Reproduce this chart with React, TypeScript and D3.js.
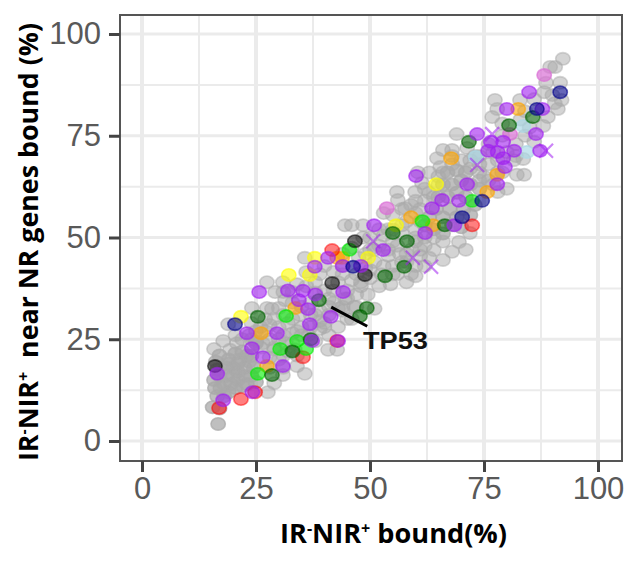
import React from 'react';
import * as d3 from 'd3';

type Pt = [number, number];

const xTicks = [0, 25, 50, 75, 100];
const yTicks = [0, 25, 50, 75, 100];
const minorTicks = [12.5, 37.5, 62.5, 87.5];

// grey genes, drawn under the coloured ones
const greyBack: Pt[] = [
  [15.8,22.6],[17.8,24.6],[19.3,22.4],[20.8,24],[18.9,28.7],[24.1,32.7],[27.4,32.7],[30,32.7],[28.5,32.5],
  [27.4,39],[29.2,36.6],[31,36.6],[33,36.6],[30.9,39],[31.4,34.6],[35.7,45],[40.8,22.4],[42.8,22.4],
  [35.7,16.5],[34,18.4],[30.9,16.2],[27.6,12],[29,14.2],[23.5,26],[25,24.5],[26.5,24],[28,25],[29,22.5],
  [30,20],[28,20.5],[31.5,24],[33,26.5],[33.5,22.5],[35,28],[36.5,26],[38,24.5],[39,27.5],[41,26],
  [43,28],[39,29.5],[41,31],[43,32.5],[45,30],[46.5,33],[44.5,35],[47,36],[49.5,36],[51,32.5],[48,39],
  [46,39.5],[44,41],[42,41.5],[40,43],[38,39],[36,38],[34,38.5],[37,34],[39,32],[34.5,31],[32,29],
  [30,28],[28,28.5],[26,28],[24,29],[33,34],[41,35],[36,41.5],[38,36.5],[42,37],[44,46],[46,47.5],
  [47.5,45],[49,42.5],[51,44],[52.5,41],[54.5,38.5],[56,41],[58,39],[60,40.5],[62,43],[61,45.5],
  [59,47],[56.5,46],[54,45.5],[52,48],[50,47],[48.5,50],[46,53],[44.5,53],[48.5,53],[53,50.5],
  [55,49],[57,51],[60,50],[62,48],[64,46.9],[66,49],[69.5,48.9],[71.9,51.1],[71,47],[68,46.5],[66,44.5],
  [55.9,61.2],[56.1,59.2],[59.9,61.2],[57.7,57.2],[61.4,63.4],[55,55.5],[53,56],[58,54],[60,56],[62,59],
  [64,60],[63,66],[60.5,66],[64.7,69.5],[65.4,67.3],[66,71.5],[68,71.5],[69,75.4],[71.3,72],[70,69],
  [72,67],[74,66],[76,68],[78,66],[82.2,65.4],[83.8,65.4],[83.6,69.3],[78,61.2],[80,62],[81.5,69],
  [77,71],[79,75],[82,73],[84,75],[86,73.5],[77.4,83.8],[77.9,81.6],[76.8,79.6],[79,78],[82.9,83.8],
  [84,81],[86,84],[89,79.6],[88,77.4],[88.2,85.7],[91.2,81.6],[92,83.8],[91.7,88],[88.6,88],[89.5,91.9],
  [90.6,91.9],[92.3,93.9],[90,85],[90.5,83],[85,77],[83,79],
  [40,37],[43,39],[45,37],[47,41],[50,40],[52,38],[55,43],[58,44],[60,43],[63,45],[50,50],[52,52],[54,52],
  [56,48],[58,46],[60,52],[62,50],[64,50],[57,57],[59,58],[61,57],[63,61],[65,63],[74,70],[76,73],[80,71],
  [82,70],[78,69],[76,64],[74,64],[72,69],[68,68],[66,66],[35,33],[37,31],[31,31],[33,30],[29,30],[27,30],
  [25,27],[27,27],[31,26],[34,27],[37,28],[40,28],[42,34],[44,32],[46,30],[32,22],[34,21],[31,18],[28,18],
];

// second layer of grey, where the band gets darker
const greyFront: Pt[] = [
  [20.5,26],[22,25],[24,25],[26,23],[29,23],[31,21],[33,24],[35,26],[30,25],[38,31],[40,29],[44,33],[45,35],
  [47,33],[41,33],[48,38],[50,42],[53,43],[55,41],[57,44],[59,41],[61,47],[60,49],[57,53],[55,52],[54,47],
  [51,47],[49,46],[44,43],[39,41],[75,65],[77,63],[74,68],[73,70],[79,66],[68,70],[65,65],[62,62],[60,59],[61,54],
];

// the two solid grey patches
const greySolid: Pt[] = [
  [17,21],[16.2,19.5],[16.5,17.5],[15.8,15],[16,13],[16.5,11],[15.5,8.3],[17,8],[16.7,4.2],[18,14],[18.5,16],
  [18.5,18],[19,20],[19,12],[19.5,14],[20,16],[20,18],[20.5,21.5],[20.5,13],[21,15],[21,17],[21.5,20],[22,13.5],
  [22.5,16],[22.5,18],[23,14],[23,21],[23.5,19.5],[24,16],[24.5,18],[25,14.5],[17,16],[18,11],[17.2,13],
  [19,19],[21,19],[22,22],[24,21],[25,24],
  [63,55],[64.5,57],[66,55],[67.5,57],[69,55],[70.5,57],[72,55.5],[65,60],[67,60],[69,61],[71,60],[73,58],
  [66,63],[68,63],[70,64],[72,63],[74,62],[67,66],[69,66.5],[71,66],[62,53],[64,52],[68,53],[70,52.5],[66,51],
];

const purple: Pt[] = [
  [24.2,12],[17.8,10],[16.5,16.5],[30.9,18.4],[37.3,24.6],[26.5,20.6],[24.1,22.8],[23,26.5],[29.6,26.5],
  [36.8,28.7],[41.4,30.5],[34.4,34.6],[36.4,32.4],[25.7,36.6],[35.3,36.9],[40.8,45],[37.9,42.8],[44.1,36.6],
  [43,24.6],[52.9,46.9],[50.9,53],[62.1,51.1],[63.6,57.2],[65.8,59.2],[60.1,65.1],[69.5,59],[77.9,63.1],
  [71.3,63.1],[73.5,75.4],[75.9,71.3],[79.2,73.5],[76.5,73.5],[81.6,71.3],[79.2,69.5],[79.6,67.3],[86.4,75.4],
  [87.3,71.3],[80,81.6],[84.9,85.7],[87.8,81.6],[78,71],[68.5,53],[48,43],[44,43],[32,37],[38,36],
];
const greenBright: Pt[] = [[25.4,16.5],[36,22.6],[34,24.6],[30.3,22.6],[31.6,30.7],[72.4,59],[61.5,54],[45.5,47]];
const greenDark: Pt[] = [
  [28.5,16.2],[25.4,30.5],[38.8,34.6],[49.3,32.7],[47.8,30.7],[57.5,42.8],[55,51.1],[58.1,49.1],[71.7,73.5],
  [80.5,77.6],[85.7,79.6],[66.4,53],[53.3,40.5],[33,22],[37,25],
];
const orange: Pt[] = [
  [27.4,18.4],[26.1,26.5],[33.6,32.7],[42.8,45],[43.9,45],[63.8,53],[59,55],[75.7,61.2],[77.9,65.4],[67.8,69.5],
  [82.5,81.6],
];
const yellow: Pt[] = [[21.7,30.5],[32.2,40.8],[36.8,40.8],[37.9,45],[49.6,45],[55.7,53],[64.5,63.1]];
const red: Pt[] = [[21.7,10.3],[24.8,12],[16.9,8.1],[35.3,20.6],[42.8,24.6],[41.7,46.9],[72.4,53]];
const navy: Pt[] = [[20.4,28.7],[46.3,42.8],[70.2,55],[74.6,59],[86.6,81.6],[91.7,85.7]];
const black: Pt[] = [[16,18.4],[41.7,38.8],[46.7,49.1],[48.9,40.8]];
const orchid: Pt[] = [[53.7,57.2],[80.7,75.4],[88.2,89.9]];
const skyBlue: Pt[] = [[73.2,69.8],[84.4,71],[83.6,77.4]];
const crosses: Pt[] = [[50.7,49.1],[63.4,42.8],[59.4,45],[73.5,67.8],[76.8,75.4],[88.6,71.3]];

const series: { pts: Pt[]; color: string; alpha: number }[] = [
  { pts: greyBack, color: '#a9a9a9', alpha: 0.5 },
  { pts: greyFront, color: '#a9a9a9', alpha: 0.5 },
  { pts: greySolid, color: '#a9a9a9', alpha: 0.75 },
  { pts: skyBlue, color: '#add8e6', alpha: 0.7 },
  { pts: orchid, color: '#da70d6', alpha: 0.7 },
  { pts: yellow, color: '#ffff00', alpha: 0.6 },
  { pts: orange, color: '#ffa500', alpha: 0.6 },
  { pts: red, color: '#ff0000', alpha: 0.5 },
  { pts: greenBright, color: '#00ee00', alpha: 0.6 },
  { pts: greenDark, color: '#006400', alpha: 0.6 },
  { pts: black, color: '#000000', alpha: 0.55 },
  { pts: purple, color: '#a020f0', alpha: 0.6 },
  { pts: navy, color: '#00008b', alpha: 0.6 },
];

const App = () => {
  const svgRef = React.useRef<SVGSVGElement>(null);

  React.useEffect(() => {
    const svg = d3.select(svgRef.current);
    svg.selectAll('*').remove();

    const panel = { left: 120, right: 622, top: 15, bottom: 461 };
    const x = d3.scaleLinear().domain([0, 100]).range([142, 598]);
    const y = d3.scaleLinear().domain([0, 100]).range([441, 34]);

    svg.append('defs').append('filter').attr('id', 'soft')
      .append('feGaussianBlur').attr('stdDeviation', 0.7);

    // grid
    const grid = svg.append('g').attr('stroke', '#ebebeb');
    const vLine = (vals: number[], w: number) => grid.append('g').selectAll('line').data(vals).enter().append('line')
      .attr('x1', d => x(d)).attr('x2', d => x(d)).attr('y1', panel.top).attr('y2', panel.bottom).attr('stroke-width', w);
    const hLine = (vals: number[], w: number) => grid.append('g').selectAll('line').data(vals).enter().append('line')
      .attr('y1', d => y(d)).attr('y2', d => y(d)).attr('x1', panel.left).attr('x2', panel.right).attr('stroke-width', w);
    vLine(minorTicks, 2);
    hLine(minorTicks, 2);
    vLine(xTicks, 4);
    hLine(yTicks, 3);

    // points
    const marks = svg.append('g').attr('filter', 'url(#soft)');
    series.forEach(s => {
      marks.append('g').selectAll('ellipse').data(s.pts).enter().append('ellipse')
        .attr('cx', d => x(d[0])).attr('cy', d => y(d[1]))
        .attr('rx', 7.2).attr('ry', 6.2)
        .attr('fill', s.color).attr('fill-opacity', s.alpha)
        .attr('stroke', s.color).attr('stroke-opacity', s.alpha).attr('stroke-width', 1.6);
    });
    const cross = d3.symbol().type(d3.symbolX).size(130);
    marks.append('g').selectAll('path').data(crosses).enter().append('path')
      .attr('d', cross)
      .attr('transform', d => `translate(${x(d[0])},${y(d[1])})`)
      .attr('fill', 'none').attr('stroke', '#a020f0').attr('stroke-opacity', 0.55).attr('stroke-width', 2.2);

    // TP53 call-out
    svg.append('line')
      .attr('x1', x(41.5)).attr('y1', y(32.9)).attr('x2', x(49.4)).attr('y2', y(28.2))
      .attr('stroke', '#000').attr('stroke-width', 3);
    svg.append('text').attr('x', 363).attr('y', 349)
      .attr('font-family', '"Liberation Sans", Arial, sans-serif').attr('font-weight', 700).attr('font-size', 23)
      .attr('textLength', 65).attr('lengthAdjust', 'spacingAndGlyphs')
      .attr('fill', '#111').text('TP53');

    // panel border
    svg.append('rect')
      .attr('x', panel.left).attr('y', panel.top)
      .attr('width', panel.right - panel.left).attr('height', panel.bottom - panel.top)
      .attr('fill', 'none').attr('stroke', '#555').attr('stroke-width', 2);

    // axes
    const styleAxis = (g: any) => {
      g.select('.domain').remove();
      g.selectAll('.tick line').attr('stroke', '#444').attr('stroke-width', 3);
      g.selectAll('.tick text')
        .attr('font-family', '"Liberation Sans", Arial, sans-serif').attr('font-size', 31).attr('fill', '#595959');
    };
    svg.append('g').attr('transform', `translate(0,${panel.bottom})`)
      .call(d3.axisBottom(x).tickValues(xTicks).tickSize(11).tickPadding(5) as any)
      .call(styleAxis);
    svg.append('g').attr('transform', `translate(${panel.left},0)`)
      .call(d3.axisLeft(y).tickValues(yTicks).tickSize(11).tickPadding(8) as any)
      .call(styleAxis);

    // axis titles
    const title = (t: any, tail: string) => {
      t.attr('font-family', '"Open Sans", "Liberation Sans", sans-serif').attr('font-weight', 700).attr('fill', '#000');
      t.append('tspan').text('IR');
      t.append('tspan').attr('dy', -9).attr('font-size', 16).text('-');
      t.append('tspan').attr('dy', 9).text('NIR');
      t.append('tspan').attr('dy', -9).attr('font-size', 16).text('+');
      t.append('tspan').attr('dy', 9).text(tail);
    };
    svg.append('text').attr('x', 280).attr('y', 543).attr('font-size', 27)
      .attr('textLength', 227).attr('lengthAdjust', 'spacingAndGlyphs')
      .call(title, ' bound(%)');
    svg.append('text').attr('transform', 'translate(38,461) rotate(-90)').attr('font-size', 27)
      .attr('textLength', 438).attr('lengthAdjust', 'spacingAndGlyphs')
      .call(title, '\u00a0 near NR genes bound (%)');
  }, []);

  return <svg ref={svgRef} width={641} height={563} style={{ position: 'absolute', left: 0, top: 0, background: '#fff' }} />;
};

export default App;
